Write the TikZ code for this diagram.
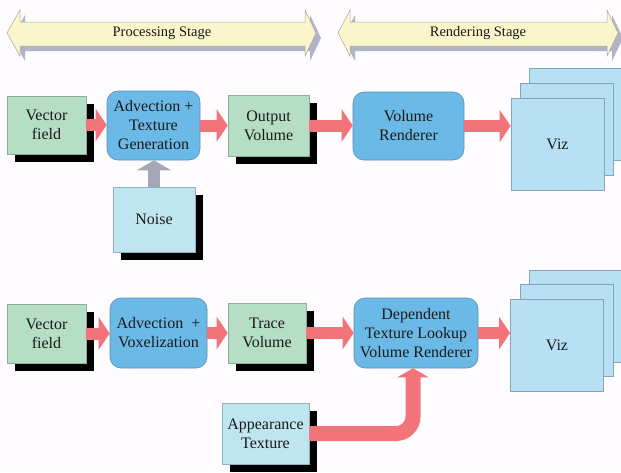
\documentclass[tikz,border=0pt]{standalone}
\usepackage{fontspec}
\setmainfont{Liberation Serif}
\usetikzlibrary{arrows.meta,shadows}
\definecolor{bgcol}{HTML}{FEFCFE}
\definecolor{boxgreen}{HTML}{B5DEC4}
\definecolor{greenborder}{HTML}{8FAE9A}
\definecolor{boxblue}{HTML}{6BB9E6}
\definecolor{blueborder}{HTML}{5A8FB4}
\definecolor{boxcyan}{HTML}{BEE5F0}
\definecolor{cyanborder}{HTML}{8FB0BC}
\definecolor{vizcol}{HTML}{B7E0F5}
\definecolor{vizborder}{HTML}{86A4B8}
\definecolor{arrowred}{HTML}{F2737A}
\definecolor{arrowgrey}{HTML}{A4A7B7}
\definecolor{bannerfill}{HTML}{FAF5CA}
\definecolor{bannerborder}{HTML}{A8A8A0}
\definecolor{bannershadow}{HTML}{B0B4C4}
\definecolor{textcol}{HTML}{1A1A1A}
\begin{document}
\begin{tikzpicture}[x=1pt,y=-1pt,
  base/.style={inner sep=0pt, align=center, text=textcol,
    font=\fontsize{16}{19}\selectfont},
  blackshadow/.style={drop shadow={shadow xshift=8pt, shadow yshift=-8pt, fill=black, opacity=1}},
  gbox/.style={base, rectangle, fill=boxgreen, draw=greenborder, line width=0.6pt, blackshadow},
  cbox/.style={base, rectangle, fill=boxcyan, draw=cyanborder, line width=0.6pt, blackshadow},
  rbox/.style={base, rectangle, rounded corners=11pt, fill=boxblue, draw=blueborder, line width=0.6pt},
  vizbox/.style={base, rectangle, fill=vizcol, draw=vizborder, line width=0.8pt,
    minimum width=93pt, minimum height=92pt},
  banner/.style={fill=bannerfill, draw=bannerborder, line width=0.5pt,
    drop shadow={shadow xshift=5pt, shadow yshift=-5pt, fill=bannershadow, opacity=1}},
  bannertext/.style={inner sep=0pt, text=textcol, font=\fontsize{14.5}{17}\selectfont},
  redarrow/.style={draw=arrowred, line width=12pt, -{Triangle[length=11pt,width=32pt]}},
  greyarrow/.style={draw=arrowgrey, line width=12pt, -{Triangle[length=10pt,width=34pt]}},
  bigredarrow/.style={draw=arrowred, line width=15pt, rounded corners=17pt, -{Triangle[length=9pt,width=31pt]}}
]
\useasboundingbox (0,0) rectangle (621,472);
\fill[bgcol] (0,0) rectangle (621,472);

% banners
\draw[banner] (7,33) -- (20,10) -- (20,22) -- (305,22) -- (305,10) -- (316,33)
  -- (305,56) -- (305,46) -- (20,46) -- (20,56) -- cycle;
\node[bannertext] (proc) at (162,33) {Processing Stage};
\draw[banner] (338,33) -- (350,10) -- (350,22) -- (607,22) -- (607,10) -- (618,33)
  -- (607,56) -- (607,46) -- (350,46) -- (350,56) -- cycle;
\node[bannertext] (rend) at (478,33) {Rendering Stage};

% top row
\node[gbox, minimum width=79pt, minimum height=58pt] (vf1) at (46.5,125) {Vector\\field};
\node[rbox, minimum width=93pt, minimum height=69pt] (adv1) at (153.5,125.5) {Advection +\\Texture\\Generation};
\node[gbox, minimum width=81pt, minimum height=61pt] (out1) at (268.5,125.5) {Output\\Volume};
\node[cbox, minimum width=82pt, minimum height=65pt] (noise) at (154,219.5) {Noise};
\node[rbox, minimum width=111pt, minimum height=68pt] (vr) at (408.5,126) {Volume\\Renderer};
\node[vizbox] (vizA3) at (576,114) {};
\node[vizbox] (vizA2) at (567,129) {};
\node[vizbox] (vizA1) at (557.5,144) {Viz};

\draw[redarrow] (vf1.east) -- (vf1.east -| adv1.west);
\draw[redarrow] (adv1.east) -- (adv1.east -| out1.west);
\draw[redarrow] (out1.east) -- (out1.east -| vr.west);
\draw[redarrow] (vr.east) -- (vr.east -| vizA1.west);
\draw[greyarrow] (noise.north) -- (noise.north |- adv1.south);

% bottom row
\node[gbox, minimum width=79pt, minimum height=59pt] (vf2) at (46.5,333.5) {Vector\\field};
\node[rbox, minimum width=97pt, minimum height=70pt] (adv2) at (158.5,333) {Advection \ +\\Voxelization};
\node[gbox, minimum width=78pt, minimum height=60pt] (tr) at (267,333) {Trace\\Volume};
\node[cbox, minimum width=87pt, minimum height=61pt] (app) at (265.5,433.5) {Appearance\\Texture};
\node[rbox, minimum width=124pt, minimum height=70pt] (dtl) at (416,333) {Dependent\\Texture Lookup\\Volume Renderer};
\node[vizbox] (vizB3) at (575.5,316) {};
\node[vizbox] (vizB2) at (566.5,330.5) {};
\node[vizbox] (vizB1) at (557,345.5) {Viz};

\draw[redarrow] (vf2.east) -- (vf2.east -| adv2.west);
\draw[redarrow] (adv2.east) -- (adv2.east -| tr.west);
\draw[redarrow] (tr.east) -- (tr.east -| dtl.west);
\draw[redarrow] (dtl.east) -- (dtl.east -| vizB1.west);
\draw[bigredarrow] (app.east) -| ([xshift=-3pt]dtl.south);
\end{tikzpicture}
\end{document}
